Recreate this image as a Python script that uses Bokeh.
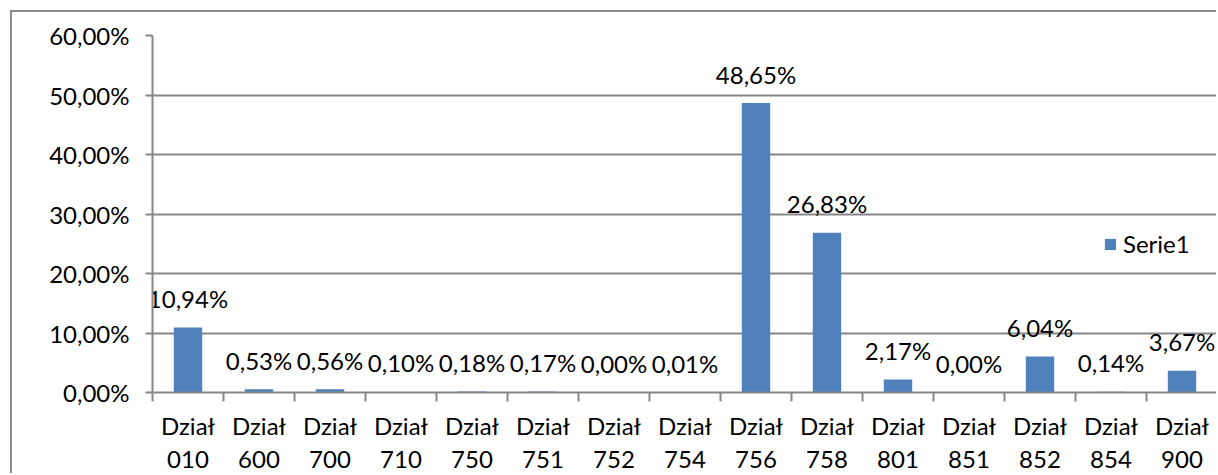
from bokeh.plotting import figure
from bokeh.models import ColumnDataSource, Range1d, FixedTicker, Legend, LegendItem
from bokeh.core.properties import value
from bokeh.embed import file_html
from bokeh.resources import INLINE
import numpy as np

departments = ["010", "600", "700", "710", "750", "751", "752", "754",
               "756", "758", "801", "851", "852", "854", "900"]
shares = [10.94, 0.53, 0.56, 0.10, 0.18, 0.17, 0.00, 0.01,
          48.65, 26.83, 2.17, 0.00, 6.04, 0.14, 3.67]
y_ticks = [0, 10, 20, 30, 40, 50, 60]
y_tick_labels = ["0,00%", "10,00%", "20,00%", "30,00%", "40,00%", "50,00%", "60,00%"]
series_name = "Serie1"

FONT = "Lato"
FS = "24px"
GRID = "#878787"
BAR = "#4F81BD"

n = len(departments)
centers = (np.arange(n) + 0.5).tolist()
bounds = np.arange(n + 1).tolist()
labels = [f"{v:.2f}".replace(".", ",") + "%" for v in shares]

src = ColumnDataSource(dict(x=centers, top=shares, lab=labels))

p = figure(width=1206, height=463, output_backend="svg", toolbar_location=None,
           x_range=Range1d(0, n), y_range=Range1d(0, 60))
p.min_border_left = 140
p.min_border_right = 1
p.min_border_top = 23
p.min_border_bottom = 82
p.outline_line_color = None
p.background_fill_color = "white"
p.border_fill_color = "white"
p.styles = {"margin-left": "10px", "margin-top": "10px",
            "border-left": "2px solid #8c8c8c", "border-top": "2px solid #8c8c8c"}

r = p.vbar(x="x", top="top", width=0.4, bottom=0, source=src,
           fill_color=BAR, line_color=None)
p.text(x="x", y="top", text="lab", source=src, text_align="center",
       text_baseline="alphabetic", y_offset=-29, text_font=value(FONT),
       text_font_size=FS, text_color="black")

# y axis
yax = p.yaxis[0]
yax.ticker = FixedTicker(ticks=y_ticks, minor_ticks=[])
yax.major_label_overrides = {t: l for t, l in zip(y_ticks, y_tick_labels)}
yax.axis_line_color = GRID
yax.axis_line_width = 2
yax.major_tick_line_color = GRID
yax.major_tick_line_width = 2
yax.major_tick_out = 7
yax.major_tick_in = 0
yax.minor_tick_line_color = None
yax.major_label_standoff = 16
yax.major_label_text_font = FONT
yax.major_label_text_font_size = FS
yax.major_label_text_color = "black"

# x axis
xax = p.xaxis[0]
xax.ticker = FixedTicker(ticks=centers, minor_ticks=bounds)
xax.major_label_overrides = {c: "Dział\n" + d for c, d in zip(centers, departments)}
xax.axis_line_color = GRID
xax.axis_line_width = 2
xax.major_tick_line_color = None
xax.major_tick_out = 0
xax.major_tick_in = 0
xax.minor_tick_line_color = GRID
xax.minor_tick_line_width = 2
xax.minor_tick_out = 9
xax.minor_tick_in = 0
xax.major_label_standoff = 9
xax.major_label_text_font = FONT
xax.major_label_text_font_size = FS
xax.major_label_text_color = "black"
xax.major_label_text_line_height = 1.14

p.xgrid.grid_line_color = None
p.ygrid.ticker = FixedTicker(ticks=y_ticks)
p.ygrid.grid_line_color = GRID
p.ygrid.grid_line_width = 2

legend = Legend(items=[LegendItem(label=series_name, renderers=[r])],
                location=(951, 134), orientation="vertical",
                background_fill_alpha=0, border_line_color=None,
                padding=0, margin=0, glyph_width=14, glyph_height=14,
                label_standoff=6, label_text_font=FONT, label_text_font_size=FS,
                label_text_color="black")
p.add_layout(legend)

open("out.html", "w").write(file_html(p, INLINE))
